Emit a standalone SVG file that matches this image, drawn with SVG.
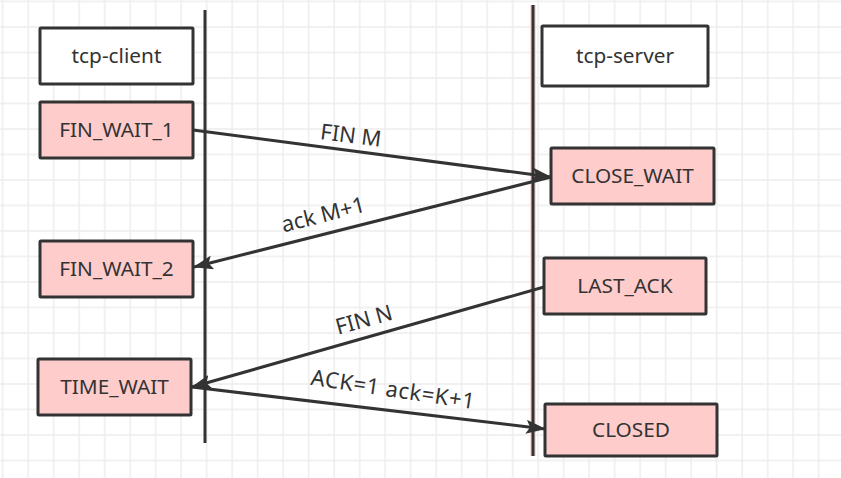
<svg xmlns="http://www.w3.org/2000/svg" width="841" height="478" viewBox="0 0 841 478">
<style>
.box{stroke:#333333;stroke-width:3;}
.state{fill:#ffcccc;}
.actor{fill:#ffffff;}
.lbl{font-family:"Noto Sans","Open Sans","Liberation Sans",sans-serif;font-size:20.8px;fill:#333333;text-anchor:middle;}
.msg{font-family:"Noto Sans","Open Sans","Liberation Sans",sans-serif;font-size:22px;fill:#333333;text-anchor:middle;}
.conn{stroke:#333333;stroke-width:3;fill:none;marker-end:url(#arr);}
</style>
<defs>
<pattern id="grid" x="1.7" y="0.5" width="25.5" height="25.5" patternUnits="userSpaceOnUse">
<path d="M1 0V25.5M0 1H25.5" stroke="#ededed" stroke-width="1.5" fill="none"/>
</pattern>
<marker id="arr" viewBox="0 0 20 14" refX="19" refY="7" markerWidth="20" markerHeight="14" markerUnits="userSpaceOnUse" orient="auto">
<path d="M0 0L20 7L0 14L4 7Z" fill="#333333"/>
</marker>
</defs>
<rect width="841" height="478" fill="#ffffff"/>
<rect width="841" height="478" fill="url(#grid)"/>
<g id="lifelines">
<line x1="205" y1="10" x2="205" y2="443" stroke="#333333" stroke-width="3"/>
<line x1="533" y1="5" x2="533" y2="456" stroke="#f6d2d2" stroke-width="5.5"/>
<line x1="533" y1="5" x2="533" y2="456" stroke="#333333" stroke-width="3"/>
</g>
<g id="tcp-client"><rect class="box actor" x="40" y="28" width="153" height="56" rx="1"/><text class="lbl" x="116.5" y="63">tcp-client</text></g>
<g id="tcp-server"><rect class="box actor" x="542" y="26" width="166" height="60" rx="1"/><text class="lbl" x="625" y="63">tcp-server</text></g>
<g id="fin-wait-1"><rect class="box state" x="40" y="102" width="153" height="56" rx="1"/><text class="lbl" x="116.5" y="137">FIN_WAIT_1</text></g>
<g id="close-wait"><rect class="box state" x="551" y="148" width="163" height="56" rx="1"/><text class="lbl" x="632.5" y="183">CLOSE_WAIT</text></g>
<g id="fin-wait-2"><rect class="box state" x="40" y="241" width="153" height="56" rx="1"/><text class="lbl" x="116.5" y="276">FIN_WAIT_2</text></g>
<g id="last-ack"><rect class="box state" x="544" y="258" width="162" height="56" rx="1"/><text class="lbl" x="625" y="293">LAST_ACK</text></g>
<g id="time-wait"><rect class="box state" x="38" y="359" width="153" height="56" rx="1"/><text class="lbl" x="114.5" y="394">TIME_WAIT</text></g>
<g id="closed"><rect class="box state" x="545" y="404" width="172" height="52" rx="1"/><text class="lbl" x="631" y="437">CLOSED</text></g>
<g id="connectors">
<path class="conn" d="M193 130L551 177"/>
<path class="conn" d="M551 177L194 267"/>
<path class="conn" d="M544 287L192 387"/>
<path class="conn" d="M192 387L545 429"/>
<text class="msg" x="350" y="143" transform="rotate(7.3 350 143)">FIN M</text>
<text class="msg" x="325" y="222" transform="rotate(-14.3 325 222)">ack M+1</text>
<text class="msg" x="366" y="327" transform="rotate(-15.5 366 327)">FIN N</text>
<text class="msg" x="392" y="397" transform="rotate(8.5 392 397)" letter-spacing="0.6">ACK=1 ack=K+1</text>
</g>
</svg>
